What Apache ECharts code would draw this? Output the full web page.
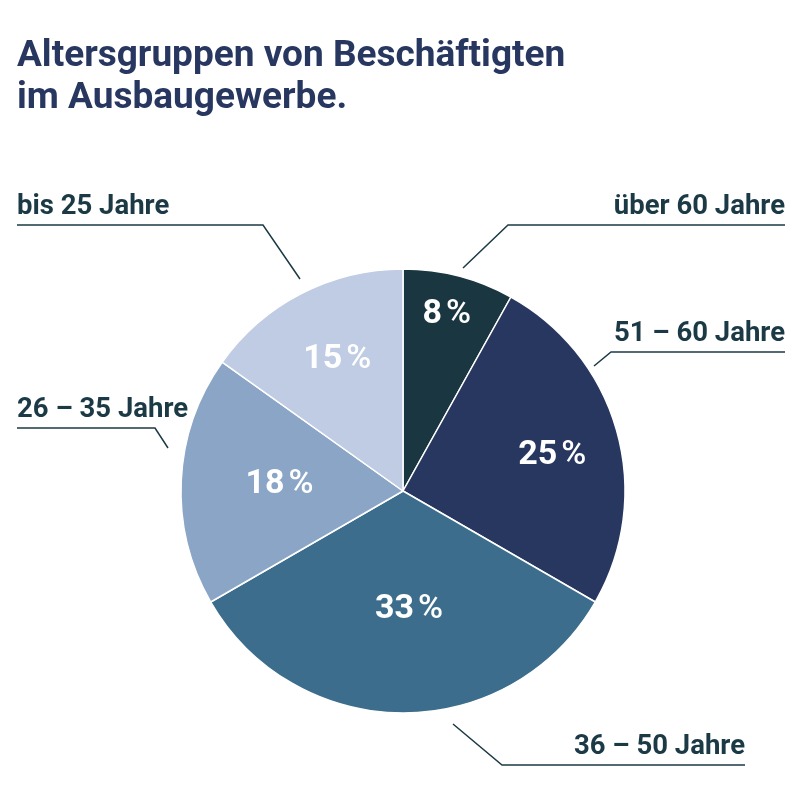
<!DOCTYPE html>
<html>
<head>
<meta charset="utf-8">
<script src="https://cdn.jsdelivr.net/npm/echarts@6/dist/echarts.min.js"></script>
<style>
html,body{margin:0;padding:0;background:#fff;}
#chart{width:800px;height:800px;}
</style>
</head>
<body>
<div id="chart"></div>
<script>
// ---- data ----
const titleText = 'Altersgruppen von Beschäftigten\nim Ausbaugewerbe.';
const categories = ['über 60 Jahre', '51 – 60 Jahre', '36 – 50 Jahre', '26 – 35 Jahre', 'bis 25 Jahre'];
const shares = [8, 25, 33, 18, 15];

// ---- styling / layout ----
const sliceColors = ['#1a3640', '#283760', '#3c6d8c', '#8aa5c6', '#bfcce3'];
const labelColor = '#1b3a45';
const CX = 403, CY = 491, R = 222;
// in-slice percentage placement: polar [angle from top in degrees, distance from centre]
const innerLabelPolar = [[13.7, 185], [75.7, 154], [177, 116], [274.6, 124], [334, 150]];
const innerLabelDy = 3;
// outer label layout: side, underline y, diagonal start, knee, underline end x
const outerLayout = [
  {side: 'right', lineY: 225, start: [463, 268], knee: [508, 225], endX: 785},
  {side: 'right', lineY: 352, start: [594, 366], knee: [611, 352], endX: 785},
  {side: 'right', lineY: 765, start: [453, 724], knee: [502, 765], endX: 745},
  {side: 'left',  lineY: 428, start: [168, 448], knee: [155, 428], endX: 17},
  {side: 'left',  lineY: 225, start: [300, 279], knee: [263, 225], endX: 17}
];

const pieData = categories.map((name, i) => ({
  name: name,
  value: shares[i],
  itemStyle: {color: sliceColors[i]}
}));

const chart = echarts.init(document.getElementById('chart'), null, {renderer: 'canvas'});
chart.setOption({
  backgroundColor: '#ffffff',
  animation: false,
  title: {
    text: titleText,
    left: 17,
    top: 36,
    padding: 0,
    textStyle: {
      fontFamily: 'Roboto',
      fontWeight: 'bold',
      fontSize: 37,
      lineHeight: 42,
      color: '#283760'
    }
  },
  series: [
    {
      type: 'pie',
      center: [CX, CY],
      radius: [0, R],
      startAngle: 90,
      clockwise: true,
      avoidLabelOverlap: false,
      itemStyle: {borderColor: '#ffffff', borderWidth: 1.5},
      emphasis: {disabled: true},
      data: pieData,
      label: {
        show: true,
        position: 'inside',
        formatter: '{n|{c}}{p|%}',
        rich: {
          n: {fontFamily: 'Roboto', fontWeight: 'bold', fontSize: 34, color: '#ffffff'},
          p: {fontFamily: 'Roboto', fontWeight: 500, fontSize: 34, color: '#ffffff', padding: [0, 0, 0, 4]}
        }
      },
      labelLine: {show: false},
      labelLayout: function (p) {
        const pol = innerLabelPolar[p.dataIndex];
        const a = pol[0] * Math.PI / 180;
        return {
          x: CX + pol[1] * Math.sin(a),
          y: CY - pol[1] * Math.cos(a) + innerLabelDy,
          align: 'center',
          verticalAlign: 'middle'
        };
      }
    },
    {
      type: 'pie',
      center: [CX, CY],
      radius: [0, R],
      startAngle: 90,
      clockwise: true,
      silent: true,
      avoidLabelOverlap: false,
      itemStyle: {color: 'rgba(0,0,0,0)', borderWidth: 0},
      emphasis: {disabled: true},
      data: categories.map((name, i) => ({name: name, value: shares[i]})),
      label: {
        show: true,
        position: 'outside',
        formatter: '{b}',
        fontFamily: 'Roboto',
        fontWeight: 'bold',
        fontSize: 27.5,
        color: labelColor
      },
      labelLine: {
        show: true,
        length: 20,
        length2: 20,
        lineStyle: {color: labelColor, width: 1.5}
      },
      labelLayout: function (p) {
        const L = outerLayout[p.dataIndex];
        return {
          x: L.endX,
          y: L.lineY - 18,
          align: L.side === 'right' ? 'right' : 'left',
          verticalAlign: 'middle',
          labelLinePoints: [L.start, L.knee, [L.endX, L.lineY]]
        };
      }
    }
  ]
});
</script>
</body>
</html>
